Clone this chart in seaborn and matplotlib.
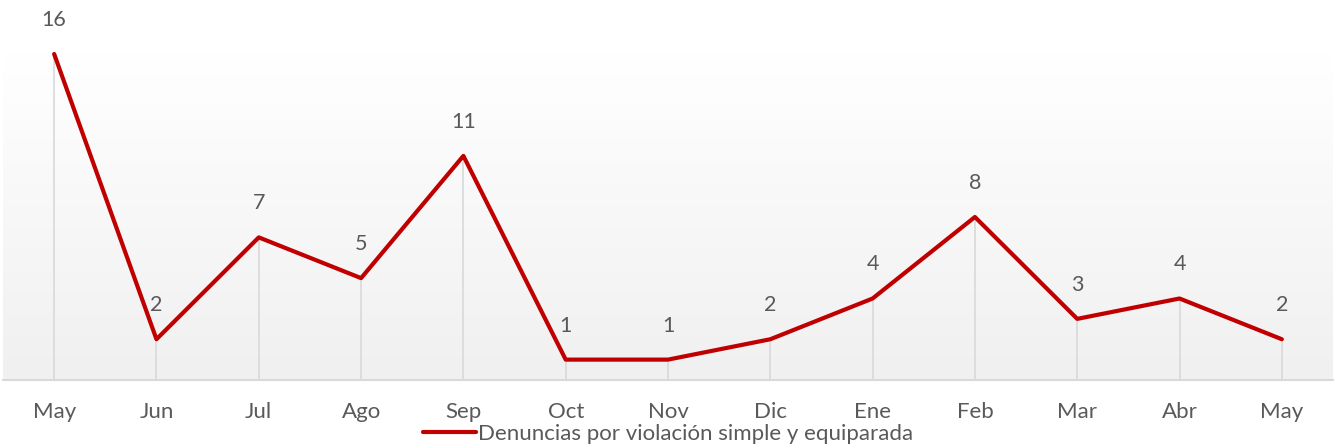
import numpy as np
import pandas as pd
import matplotlib
matplotlib.use("Agg")
import matplotlib.pyplot as plt
import seaborn as sns
from matplotlib.colors import LinearSegmentedColormap

months = ["May", "Jun", "Jul", "Ago", "Sep", "Oct", "Nov", "Dic", "Ene", "Feb", "Mar", "Abr", "May"]
values = [16, 2, 7, 5, 11, 1, 1, 2, 4, 8, 3, 4, 2]
series_name = "Denuncias por violación simple y equiparada"

sns.set_theme(style="white")
plt.rcParams['font.family'] = ['Lato', 'DejaVu Sans']

df = pd.DataFrame({"pos": np.arange(len(months)), "value": values, "serie": series_name})

fig = plt.figure(figsize=(13.41, 4.48), dpi=100)
ax = fig.add_axes([3/1341, 68/448, 1330/1341, 326/448])
ax.set_xlim(-0.5, len(months) - 0.5)
ax.set_ylim(0, 16)

# gradient background
grad = np.linspace(1, 0, 256).reshape(-1, 1)
cmap = LinearSegmentedColormap.from_list("g", ["#f0f0f0", "#ffffff"])
ax.imshow(grad, aspect="auto", cmap=cmap, extent=[-0.5, len(months) - 0.5, 0, 16],
          origin="upper", zorder=0, vmin=0, vmax=1)

ax.vlines(df["pos"], 0, df["value"], color="#d9d9d9", lw=1.2, zorder=1)

sns.lineplot(data=df, x="pos", y="value", hue="serie", palette=["#C00000"], lw=3.0,
             ax=ax, zorder=3, clip_on=False, legend=True)

for x, v in zip(df["pos"], df["value"]):
    ax.annotate(str(v), (x, v), xytext=(0, 24.5), textcoords="offset points",
                ha="center", va="center", fontsize=15.5, color="#595959", annotation_clip=False)

for s in ["top", "left", "right"]:
    ax.spines[s].set_visible(False)
ax.spines["bottom"].set_color("#d9d9d9")
ax.spines["bottom"].set_linewidth(1.5)
ax.set_xticks(df["pos"])
ax.set_xticklabels(months, fontsize=16, color="#595959")
ax.tick_params(axis="x", length=0, pad=15.5)
ax.set_yticks([])
ax.set_xlabel("")
ax.set_ylabel("")

leg = ax.legend(loc="center", bbox_to_anchor=(0.5, -0.165), frameon=False, fontsize=16,
                handlelength=2.4, handletextpad=0.1, borderaxespad=0)
for t in leg.get_texts():
    t.set_color("#595959")

fig.savefig("out.png", dpi=100)
